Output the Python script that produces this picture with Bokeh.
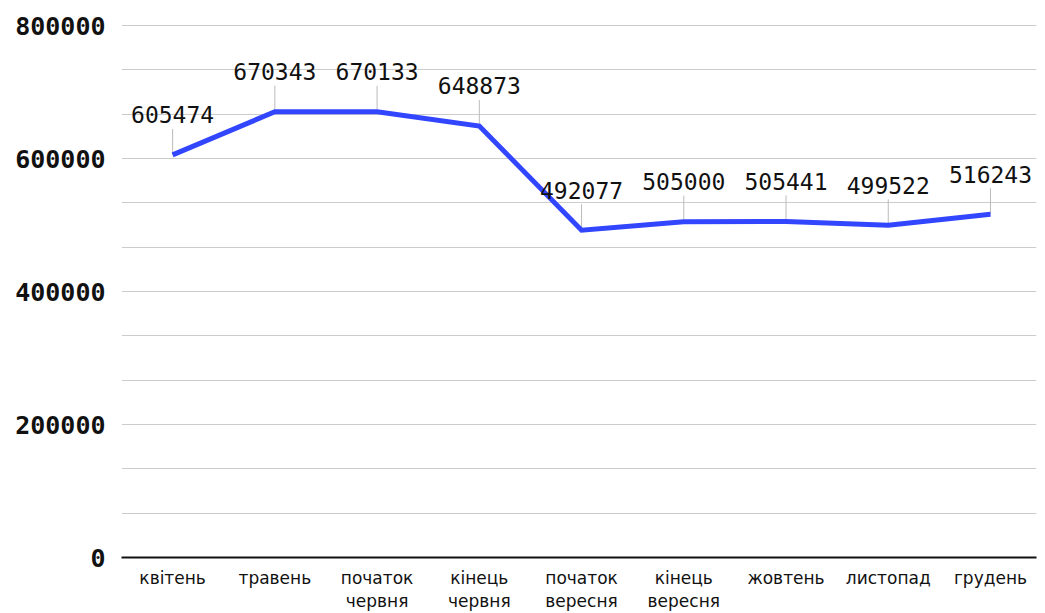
from bokeh.plotting import figure
from bokeh.models import Range1d, FixedTicker, ColumnDataSource, NumeralTickFormatter
from bokeh.core.properties import value
from bokeh.embed import file_html
from bokeh.resources import INLINE

categories = ["квітень", "травень", "початок\nчервня", "кінець\nчервня",
              "початок\nвересня", "кінець\nвересня", "жовтень", "листопад", "грудень"]
values = [605474, 670343, 670133, 648873, 492077, 505000, 505441, 499522, 516243]
label_texts = [str(v) for v in values]
y_ticks = [0, 200000, 400000, 600000, 800000]

Y_MAX = 800000
W, H = 1045, 613
BORDER_TOP, BORDER_BOTTOM = 24, 56
FRAME_H = H - BORDER_TOP - BORDER_BOTTOM
UNITS_PER_PX = Y_MAX / (FRAME_H - 1)
LEADER_PX = 26

xs = list(range(len(categories)))
src = ColumnDataSource(dict(
    x=xs, y=values, t=label_texts,
    ytop=[v + LEADER_PX * UNITS_PER_PX for v in values],
))

p = figure(width=W, height=H, output_backend="svg", toolbar_location=None,
           x_range=Range1d(-0.5, 8.45),
           y_range=Range1d(0, Y_MAX + UNITS_PER_PX),
           min_border_left=121, min_border_right=9,
           min_border_top=BORDER_TOP, min_border_bottom=BORDER_BOTTOM)
p.outline_line_color = None
p.background_fill_color = "white"
p.border_fill_color = "white"

# grid
p.xgrid.visible = False
p.ygrid.ticker = FixedTicker(ticks=[k * Y_MAX / 12 for k in range(13)])
p.ygrid.grid_line_color = "#cccccc"
p.ygrid.grid_line_width = 1

# y axis
p.yaxis.ticker = FixedTicker(ticks=y_ticks)
p.yaxis.formatter = NumeralTickFormatter(format="0")
p.yaxis.axis_line_color = None
p.yaxis.major_tick_line_color = None
p.yaxis.minor_tick_line_color = None
p.yaxis.major_tick_out = 0
p.yaxis.major_label_standoff = 16
p.yaxis.major_label_text_font = "DejaVu Sans Mono"
p.yaxis.major_label_text_font_style = "bold"
p.yaxis.major_label_text_font_size = "25px"
p.yaxis.major_label_text_color = "#111111"

# x axis
p.xaxis.ticker = FixedTicker(ticks=xs)
p.xaxis.major_label_overrides = {i: c for i, c in zip(xs, categories)}
p.xaxis.axis_line_color = "#111111"
p.xaxis.axis_line_width = 2
p.xaxis.major_tick_line_color = None
p.xaxis.minor_tick_line_color = None
p.xaxis.major_tick_out = 0
p.xaxis.major_label_standoff = 10
p.xaxis.major_label_text_font = "DejaVu Sans"
p.xaxis.major_label_text_font_size = "17px"
p.xaxis.major_label_text_line_height = 1.17
p.xaxis.major_label_text_color = "#111111"

# leader lines
p.segment(x0="x", y0="y", x1="x", y1="ytop", source=src,
          line_color="#bbbbbb", line_width=1)

# main line
p.line(x="x", y="y", source=src, line_color="#3346FF", line_width=5,
       line_join="miter")

# data labels
p.text(x="x", y="y", text="t", source=src, text_align="center",
       text_baseline="alphabetic", y_offset=-40,
       text_font=value("DejaVu Sans Mono"), text_font_size="23px",
       text_color="#111111")

open("out.html", "w").write(file_html(p, INLINE))
